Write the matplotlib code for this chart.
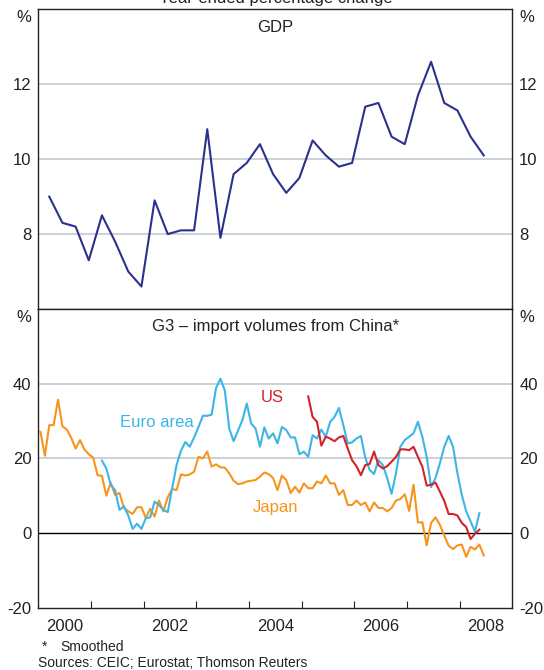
import numpy as np
import matplotlib
matplotlib.use("Agg")
import matplotlib.pyplot as plt

plt.rcParams['font.family'] = ['Liberation Sans', 'DejaVu Sans']
plt.rcParams['axes.unicode_minus'] = False

# GDP, year-ended % change, quarterly from 2000 Q1
gdp = [9.0, 8.3, 8.2, 7.3, 8.5, 7.8, 7.0, 6.6, 8.9, 8.0, 8.1, 8.1,
       10.8, 7.9, 9.6, 9.9, 10.4, 9.6, 9.1, 9.5, 10.5, 10.1, 9.8, 9.9,
       11.4, 11.5, 10.6, 10.4, 11.7, 12.6, 11.5, 11.3, 10.6, 10.1]
gdp_start = 2000  # first quarter of this year

# import volumes from China, monthly
japan_start = (2000, 1)
japan = [27.1, 20.7, 28.9, 28.9, 35.7, 28.6, 27.7, 25.5, 22.6, 24.9, 22.4, 21.1,
         20.2, 15.5, 15.3, 10.0, 13.5, 10.2, 10.7, 6.8, 5.8, 5.1, 6.9, 6.9,
         4.0, 6.5, 4.4, 8.7, 5.8, 9.6, 11.8, 11.5, 15.7, 15.4, 15.7, 16.4,
         20.4, 20.0, 21.8, 17.8, 18.4, 17.6, 17.5, 16.0, 14.0, 13.1, 13.3, 13.8,
         14.0, 14.2, 15.1, 16.2, 15.8, 14.7, 11.5, 15.4, 14.2, 10.7, 12.4, 10.8,
         13.3, 12.0, 12.0, 13.8, 13.3, 15.4, 13.3, 13.3, 10.2, 11.5, 7.5, 7.5,
         8.7, 7.5, 8.2, 5.8, 8.2, 6.7, 6.7, 5.8, 6.7, 8.7, 9.1, 10.4,
         5.9, 12.9, 2.8, 2.9, -3.3, 2.7, 4.2, 2.2, -0.7, -3.4, -4.3, -3.3,
         -3.1, -6.4, -3.7, -4.4, -3.1, -6.0]

euro_start = (2001, 3)
euro = [19.4, 17.3, 12.9, 11.5, 6.2, 7.1, 4.7, 1.1, 2.5, 1.1,
        4.0, 4.2, 8.4, 7.5, 6.2, 5.6, 12.0, 18.2, 22.0, 24.4, 23.1, 25.6,
        28.4, 31.4, 31.4, 31.7, 38.9, 41.3, 38.2, 28.0, 24.6, 27.4, 30.2, 34.7,
        29.3, 28.0, 23.1, 28.3, 25.3, 26.7, 24.0, 28.4, 27.6, 25.6, 25.6, 21.1,
        21.8, 20.4, 26.2, 25.3, 27.7, 25.8, 29.8, 31.1, 33.5, 28.9, 24.0, 24.3,
        25.3, 26.0, 20.2, 16.9, 15.8, 19.5, 18.2, 14.7, 10.5, 16.0, 23.1, 24.9,
        25.8, 26.7, 29.8, 25.8, 20.4, 12.3, 14.7, 18.7, 23.1, 26.0, 23.1, 16.0,
        10.2, 5.8, 3.1, 0.4, 5.3]

us_start = (2005, 2)
us = [36.6, 31.1, 29.8, 23.4, 25.8, 25.3, 24.6, 25.6, 26.0, 22.7, 19.5,
      17.9, 15.5, 18.2, 18.5, 21.8, 18.2, 17.3, 17.9, 19.1, 20.4, 22.4, 22.4,
      22.2, 23.1, 20.4, 17.8, 12.7, 12.9, 13.5, 11.1, 8.6, 5.1, 5.1, 4.7,
      2.7, 1.6, -1.6, -0.2, 0.9]

year_labels = [2000, 2002, 2004, 2006, 2008]


def monthly_x(start, n):
    y, m = start
    return y + (m - 1 + 0.5 + np.arange(n)) / 12


def quarterly_x(year, n):
    return year + (3 * (np.arange(n) + 1) - 0.5) / 12


navy = '#2B318C'
sky = '#3DB5E6'
red = '#D2232A'
orange = '#F7941D'
grid_c = '#C3C9D1'
txt = '#222222'

fig = plt.figure(figsize=(5.44, 6.70), dpi=100)
ax1 = fig.add_axes([0.0704, 0.5388, 0.8713, 0.4473])
ax2 = fig.add_axes([0.0704, 0.0930, 0.8713, 0.4458])

for ax in (ax1, ax2):
    ax.set_xlim(2000, 2009)
    for s in ax.spines.values():
        s.set_color(txt)
        s.set_linewidth(1.0)
    ax.tick_params(axis='y', length=0, labelsize=12, colors=txt, pad=5,
                   labelleft=True, labelright=True)
    ax.tick_params(axis='x', direction='in', length=5, color=txt, width=0.8)
    ax.set_xticks(range(2001, 2009))
    ax.set_xticklabels([])

# top panel
ax1.set_ylim(6, 14)
ax1.set_yticks([8, 10, 12])
for v in [8, 10, 12]:
    ax1.axhline(v, color=grid_c, lw=1.2, zorder=0)
ax1.plot(quarterly_x(gdp_start, len(gdp)), gdp, color=navy, lw=1.5)
ax1.tick_params(axis='x', length=0)
ax1.text(0.5, 0.94, 'GDP', transform=ax1.transAxes, ha='center', va='center',
         fontsize=12, color=txt)

# bottom panel
ax2.set_ylim(-20, 60)
ax2.set_yticks([-20, 0, 20, 40])
for v in [20, 40]:
    ax2.axhline(v, color=grid_c, lw=1.2, zorder=0)
ax2.axhline(0, color='black', lw=1.0, zorder=1)
ax2.plot(monthly_x(japan_start, len(japan)), japan, color=orange, lw=1.5, zorder=2)
ax2.plot(monthly_x(euro_start, len(euro)), euro, color=sky, lw=1.5, zorder=3)
ax2.plot(monthly_x(us_start, len(us)), us, color=red, lw=1.5, zorder=4)
ax2.set_xticks([y + 0.5 for y in year_labels], minor=True)
ax2.set_xticklabels([str(y) for y in year_labels], minor=True)
ax2.tick_params(axis='x', which='minor', length=0, labelsize=12, colors=txt, pad=8)
ax2.text(0.5, 0.943, 'G3 \u2013 import volumes from China*', transform=ax2.transAxes,
         ha='center', va='center', fontsize=12, color=txt)
ax2.text(2002.25, 29.5, 'Euro area', ha='center', va='center', fontsize=12, color=sky)
ax2.text(2004.45, 36.2, 'US', ha='center', va='center', fontsize=12, color=red)
ax2.text(2004.5, 6.8, 'Japan', ha='center', va='center', fontsize=12, color=orange)

# % units
for yy in (17, 317):
    fig.text(23.5 / 544, 1 - yy / 670, '%', ha='center', va='center', fontsize=12, color=txt)
    fig.text(527 / 544, 1 - yy / 670, '%', ha='center', va='center', fontsize=12, color=txt)

# title, cut off at top edge as in the original
fig.text(276 / 544, 1 - 3 / 670, 'Year-ended percentage change', ha='center',
         va='baseline', fontsize=12, color=txt)

fig.text(42 / 544, 1 - 647 / 670, '*', ha='left', va='center', fontsize=10, color=txt)
fig.text(60 / 544, 1 - 647 / 670, 'Smoothed', ha='left', va='center', fontsize=10, color=txt)
fig.text(38 / 544, 1 - 663 / 670, 'Sources: CEIC; Eurostat; Thomson Reuters', ha='left',
         va='center', fontsize=10, color=txt)

fig.savefig('out.png', dpi=100)
